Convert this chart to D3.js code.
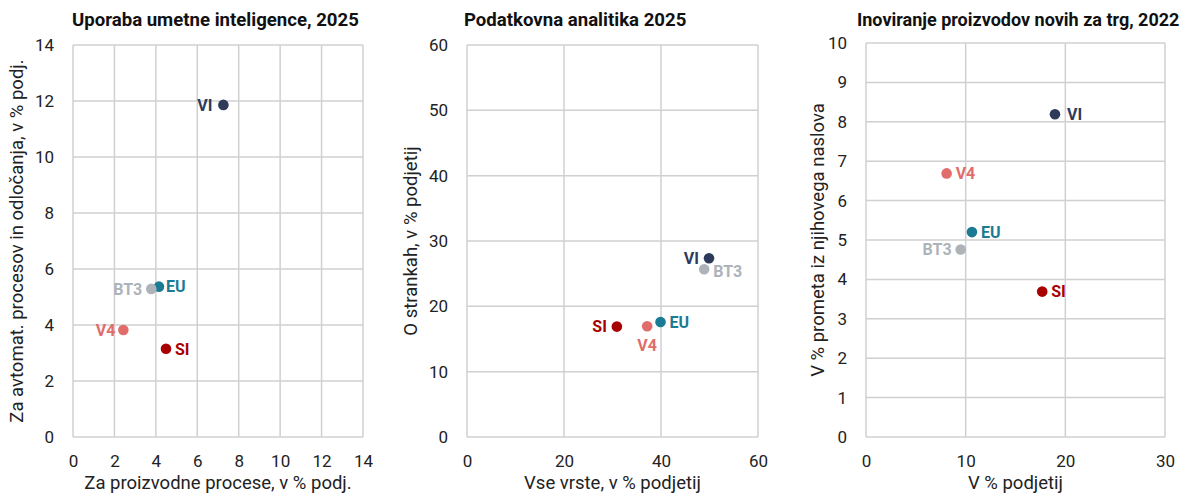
<!DOCTYPE html>
<html>
<head>
<meta charset="utf-8">
<script src="https://cdn.jsdelivr.net/npm/d3@7"></script>
<style>
  body { margin: 0; background: #fff; }
  svg { display: block; }
  .tick text { font-family: Roboto, "Open Sans", sans-serif; }
</style>
</head>
<body>
<svg id="chart" width="1190" height="495"></svg>
<script>
// regions in every panel
var regions = ["VI", "EU", "BT3", "V4", "SI"];
var regionColors = ["#2e3a5a", "#1b7a94", "#adb3b9", "#e06c6c", "#a80000"];

// Uporaba umetne inteligence, 2025
var aiX = [7.26, 4.15, 3.78, 2.43, 4.49];
var aiY = [11.86, 5.37, 5.29, 3.82, 3.15];

// Podatkovna analitika 2025
var daX = [49.9, 39.9, 48.9, 37.15, 30.9];
var daY = [27.35, 17.6, 25.67, 16.96, 16.9];

// Inoviranje proizvodov novih za trg, 2022
var inX = [18.96, 10.63, 9.5, 8.09, 17.68];
var inY = [8.19, 5.2, 4.76, 6.69, 3.69];

var titles = ["Uporaba umetne inteligence, 2025", "Podatkovna analitika 2025", "Inoviranje proizvodov novih za trg, 2022"];
var xTitles = ["Za proizvodne procese, v % podj.", "Vse vrste, v % podjetij", "V % podjetij"];
var yTitles = ["Za avtomat. procesov in odločanja, v % podj.", "O strankah, v % podjetij", "V % prometa iz njihovega naslova"];
var xTicks = [[0, 2, 4, 6, 8, 10, 12, 14], [0, 20, 40, 60], [0, 10, 20, 30]];
var yTicks = [[0, 2, 4, 6, 8, 10, 12, 14], [0, 10, 20, 30, 40, 50, 60], [0, 1, 2, 3, 4, 5, 6, 7, 8, 9, 10]];

// layout of each panel (plot box, label side per region: l r b br)
var panels = [
    {x: aiX, y: aiY, left: 73, right: 363, top: 45, bottom: 437, yTitleX: 23, titleX: 72, titleSize: 18.6,
     side: ["l", "r", "l", "l", "r"], off: [11, 7, 9, 8, 9]},
    {x: daX, y: daY, left: 467, right: 758, top: 45, bottom: 437, yTitleX: 417, titleX: 464, titleSize: 18.6,
     side: ["l", "r", "br", "b", "l"], off: [10, 9, 9, 19, 10]},
    {x: inX, y: inY, left: 866, right: 1165, top: 43, bottom: 437, yTitleX: 824, titleX: 857, titleSize: 18,
     side: ["r", "r", "l", "r", "r"], off: [12, 9, 9, 9, 9]}
];

var svg = d3.select("#chart");
var gridColor = "#d0d0d0";

panels.forEach(function(p, k) {
    var xs = xTicks[k], ys = yTicks[k];
    var x = d3.scaleLinear().domain([0, xs[xs.length - 1]]).range([p.left, p.right]);
    var y = d3.scaleLinear().domain([0, ys[ys.length - 1]]).range([p.bottom, p.top]);
    var g = svg.append("g").attr("class", "panel");

    // grid
    g.append("g")
        .selectAll("line.gx").data(xs).enter().append("line")
        .attr("x1", function(d) { return x(d); }).attr("x2", function(d) { return x(d); })
        .attr("y1", p.top).attr("y2", p.bottom)
        .attr("stroke", gridColor).attr("stroke-width", 1.5);
    g.append("g")
        .selectAll("line.gy").data(ys).enter().append("line")
        .attr("y1", function(d) { return y(d); }).attr("y2", function(d) { return y(d); })
        .attr("x1", p.left).attr("x2", p.right)
        .attr("stroke", gridColor).attr("stroke-width", 1.5);

    // axes (labels only)
    var xa = g.append("g").attr("transform", "translate(0," + p.bottom + ")")
        .call(d3.axisBottom(x).tickValues(xs).tickSize(0).tickPadding(18));
    var ya = g.append("g").attr("transform", "translate(" + p.left + ",0)")
        .call(d3.axisLeft(y).tickValues(ys).tickSize(0).tickPadding(19));
    [xa, ya].forEach(function(a) {
        a.select(".domain").remove();
        a.selectAll("text").attr("font-size", 17).attr("fill", "#222");
    });

    // titles
    g.append("text")
        .attr("x", p.titleX).attr("y", 26)
        .attr("font-family", "Roboto, sans-serif").attr("font-weight", "bold")
        .attr("font-size", p.titleSize).attr("fill", "#111")
        .text(titles[k]);
    g.append("text")
        .attr("x", (p.left + p.right) / 2).attr("y", 489)
        .attr("text-anchor", "middle")
        .attr("font-family", "Roboto, sans-serif").attr("font-size", 18.5).attr("fill", "#222")
        .text(xTitles[k]);
    g.append("text")
        .attr("transform", "translate(" + p.yTitleX + "," + ((p.top + p.bottom) / 2) + ") rotate(-90)")
        .attr("text-anchor", "middle")
        .attr("font-family", "Roboto, sans-serif").attr("font-size", 18.5).attr("fill", "#222")
        .text(yTitles[k]);

    // points
    var pts = regions.map(function(r, i) { return {name: r, x: p.x[i], y: p.y[i], i: i}; });
    g.selectAll("circle").data(pts).enter().append("circle")
        .attr("cx", function(d) { return x(d.x); })
        .attr("cy", function(d) { return y(d.y); })
        .attr("r", 5.3)
        .attr("fill", function(d) { return regionColors[d.i]; });

    g.selectAll("text.lbl").data(pts).enter().append("text")
        .attr("class", "lbl")
        .attr("x", function(d) {
            var s = p.side[d.i], o = p.off[d.i];
            if (s == "l") return x(d.x) - o;
            if (s == "b") return x(d.x);
            return x(d.x) + o;
        })
        .attr("y", function(d) {
            var s = p.side[d.i];
            if (s == "b") return y(d.y) + p.off[d.i];
            if (s == "br") return y(d.y) + 2;
            return y(d.y);
        })
        .attr("dy", "0.36em")
        .attr("text-anchor", function(d) {
            var s = p.side[d.i];
            return s == "l" ? "end" : (s == "b" ? "middle" : "start");
        })
        .attr("font-family", "Roboto, sans-serif").attr("font-weight", "bold").attr("font-size", 16)
        .attr("fill", function(d) { return regionColors[d.i]; })
        .text(function(d) { return d.name; });
});
</script>
</body>
</html>
